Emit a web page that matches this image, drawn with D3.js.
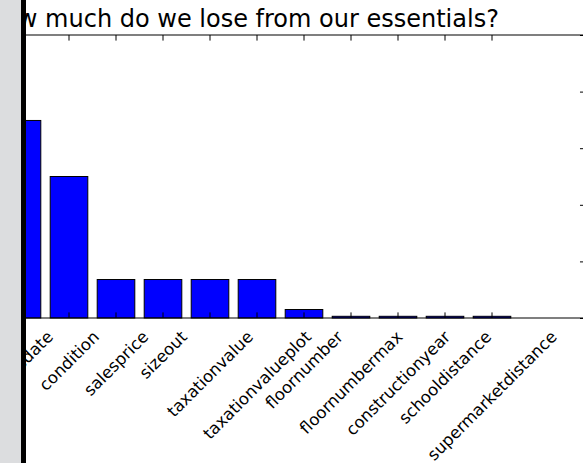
<!DOCTYPE html>
<html>
<head>
<meta charset="utf-8">
<script src="https://cdn.jsdelivr.net/npm/d3@7"></script>
<style>
  html, body { margin: 0; padding: 0; background: #ffffff; }
  svg { display: block; }
  text { font-family: "DejaVu Sans", sans-serif; fill: #000; }
</style>
</head>
<body>
<svg id="chart" width="583" height="463"></svg>
<script>
// ---- data ----
const categories = ["salesdate", "condition", "salesprice", "sizeout", "taxationvalue",
  "taxationvalueplot", "floornumber", "floornumbermax", "constructionyear",
  "schooldistance", "supermarketdistance"];
const lossValues = [3.49, 2.50, 0.68, 0.68, 0.68, 0.68, 0.15, 0.03, 0.03, 0.03, 0.03];
const yTicks = [0, 1, 2, 3, 4, 5];
const titleText = "How much do we lose from our essentials?";

// ---- layout ----
const W = 583, H = 463;
const plotTop = 35, plotBottom = 318, rightSpine = 585.6;
const tickLen = 5.6;

const svg = d3.select("#chart");

const x = d3.scaleBand()
  .domain(categories)
  .range([-1.5, 515.5])
  .paddingInner(0.2)
  .paddingOuter(0.1);

const y = d3.scaleLinear().domain([0, 5]).range([plotBottom, plotTop]);

// bars
svg.append("g").selectAll("rect")
  .data(categories)
  .join("rect")
  .attr("x", (d) => x(d))
  .attr("y", (d, i) => y(lossValues[i]))
  .attr("width", x.bandwidth())
  .attr("height", (d, i) => y(0) - y(lossValues[i]))
  .attr("fill", "#0000ff")
  .attr("stroke", "#000")
  .attr("stroke-width", 1);

// spines
svg.append("line").attr("x1", -10).attr("x2", W + 10)
  .attr("y1", plotTop).attr("y2", plotTop)
  .attr("stroke", "#000").attr("stroke-width", 1.2);
svg.append("line").attr("x1", -10).attr("x2", W + 10)
  .attr("y1", plotBottom).attr("y2", plotBottom)
  .attr("stroke", "#000").attr("stroke-width", 1.2);

// x ticks (inward, top and bottom) via axis generators
const xTop = d3.axisTop(x).tickSize(-tickLen).tickFormat("");
const gTop = svg.append("g").attr("transform", `translate(0,${plotTop})`).call(xTop);
gTop.select(".domain").remove();
gTop.selectAll("line").attr("stroke", "#000").attr("stroke-width", 1);

const xBottom = d3.axisBottom(x).tickSize(-tickLen).tickFormat("");
const gBot = svg.append("g").attr("transform", `translate(0,${plotBottom})`).call(xBottom);
gBot.select(".domain").remove();
gBot.selectAll("line").attr("stroke", "#000").attr("stroke-width", 1);

// right y ticks (inward)
const yRight = d3.axisRight(y).tickValues(yTicks).tickSize(-tickLen).tickFormat("");
const gR = svg.append("g").attr("transform", `translate(${rightSpine},0)`).call(yRight);
gR.select(".domain").remove();
gR.selectAll("line").attr("stroke", "#000").attr("stroke-width", 1);

// x tick labels rotated 45°, centred on tick, top-aligned
const fs = 16.5;
const labelTop = 328;
const lab = svg.append("g");
categories.forEach((c) => {
  const cx = x(c) + x.bandwidth() / 2;
  const t = lab.append("text")
    .attr("font-size", fs)
    .attr("text-anchor", "middle")
    .attr("dy", "0.35em")
    .text(c);
  const L = t.node().getComputedTextLength();
  const h = fs * 1.0;
  const cy = labelTop + (L + h) / (2 * Math.SQRT2);
  t.attr("transform", `translate(${cx},${cy}) rotate(-45)`);
});

// title
svg.append("text")
  .attr("x", 242)
  .attr("y", 27)
  .attr("text-anchor", "middle")
  .attr("font-size", 24)
  .text(titleText);

// left grey panel and thick black border
svg.append("rect").attr("x", 0).attr("y", 0).attr("width", 21).attr("height", H)
  .attr("fill", "#dcdddf");
svg.append("rect").attr("x", 21).attr("y", 0).attr("width", 5).attr("height", H)
  .attr("fill", "#000");
</script>
</body>
</html>
